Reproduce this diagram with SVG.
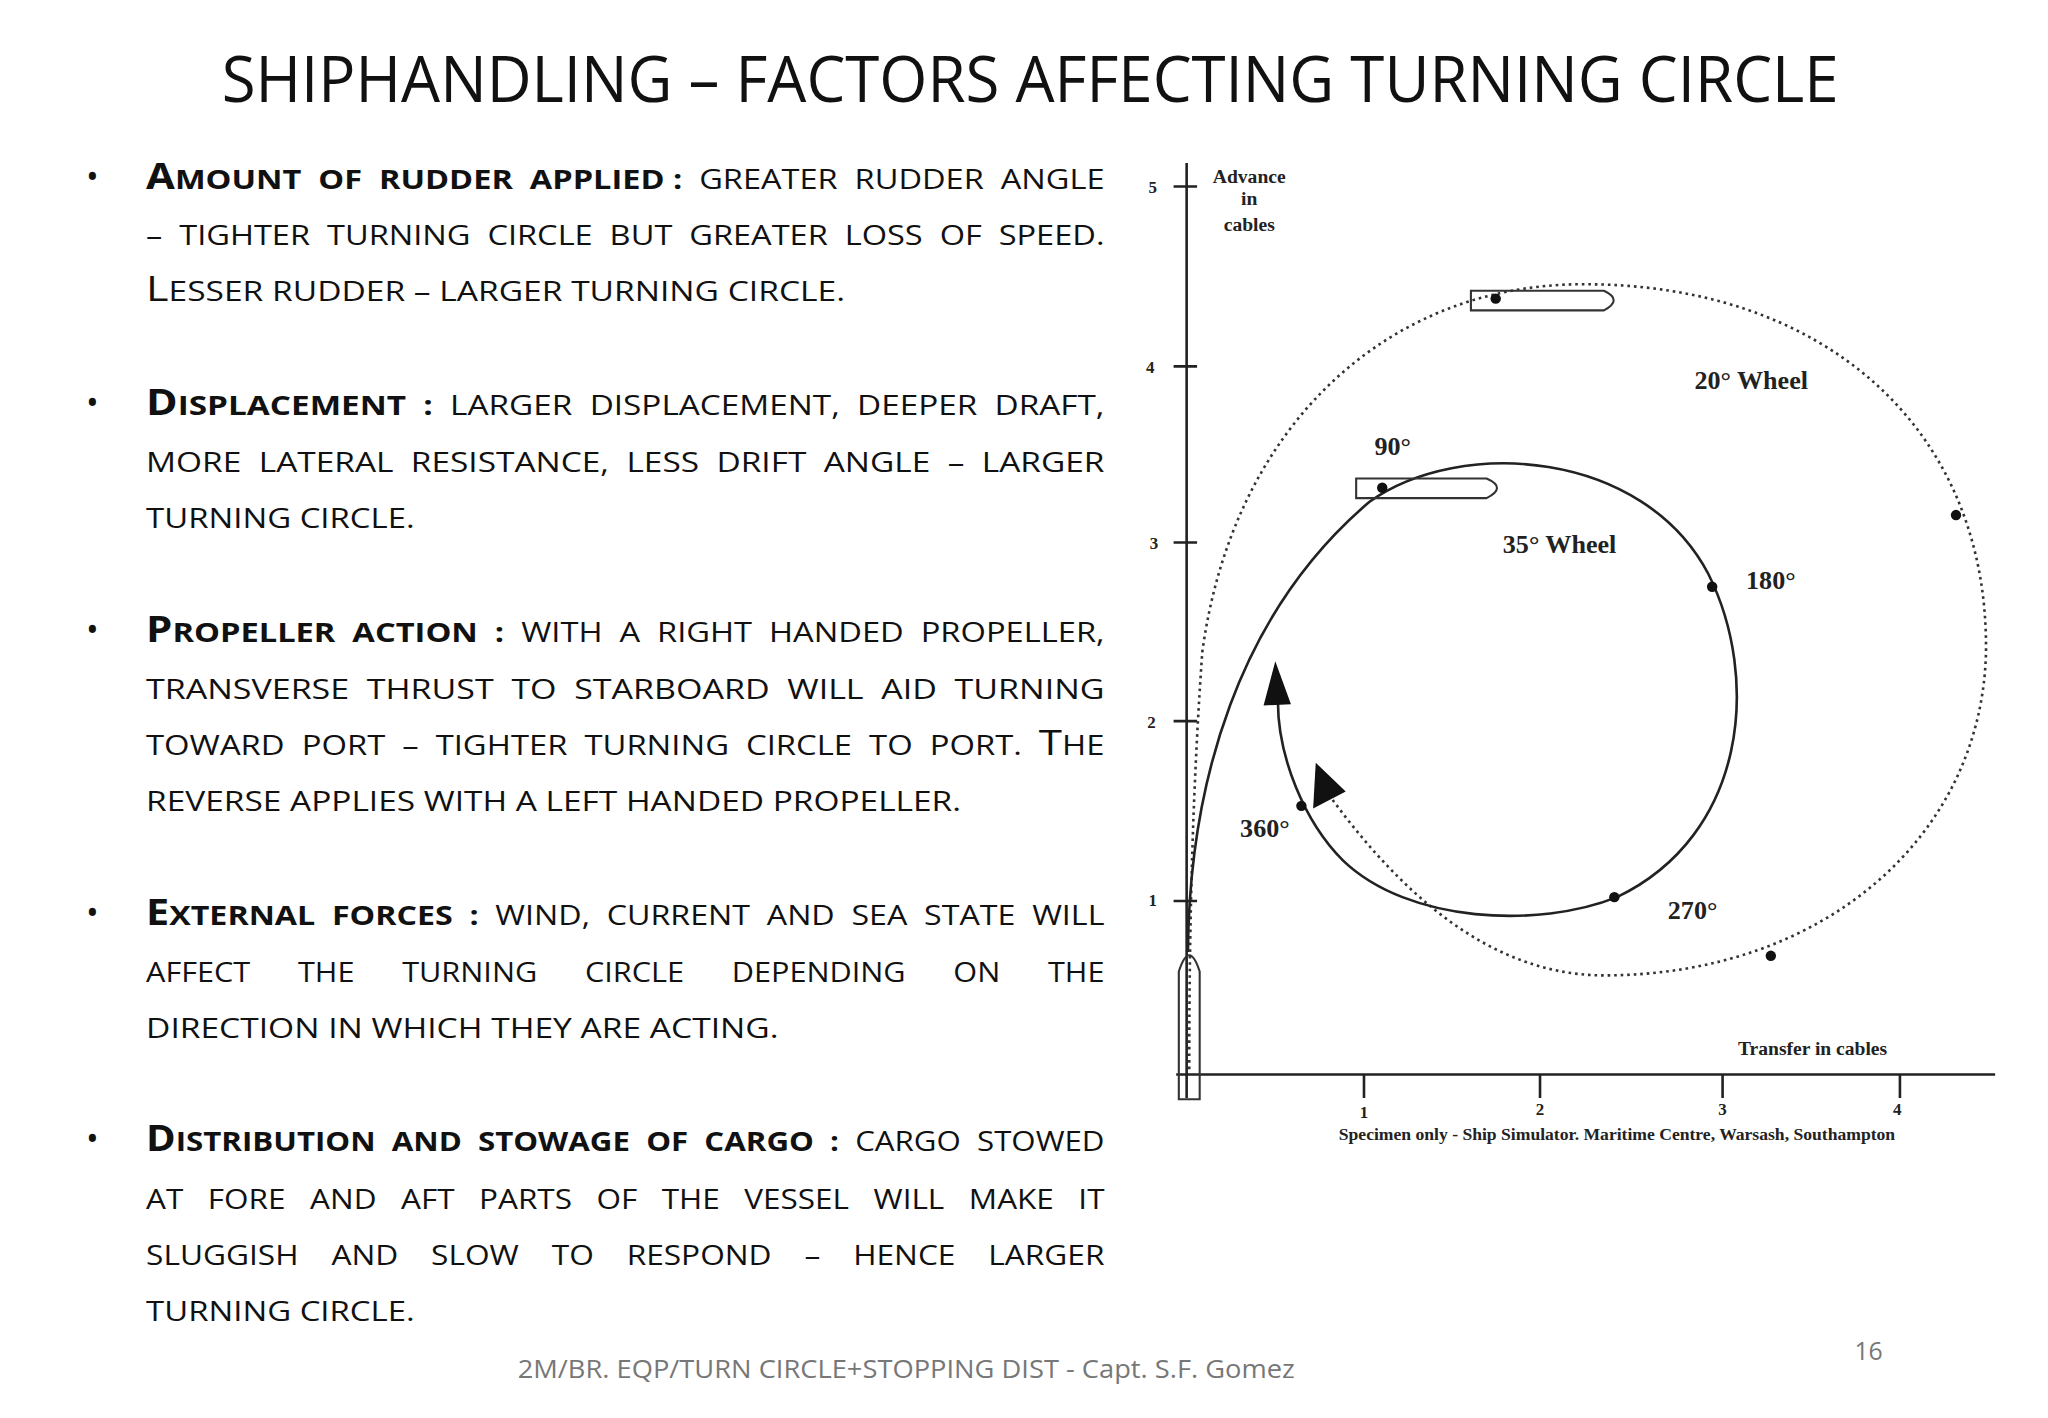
<svg xmlns="http://www.w3.org/2000/svg" width="2048" height="1418" viewBox="0 0 2048 1418">
<style>
.t{font-family:"Open Sans","Liberation Sans",sans-serif;fill:#111}
.b{font-weight:bold}
.big{font-size:27px}
.sm{font-size:21px}
.d{font-family:"Liberation Serif",serif;font-weight:bold;fill:#222}
.ax{stroke:#222;stroke-width:2;fill:none}
</style>
<rect width="2048" height="1418" fill="#fff"/>
<g transform="scale(1.304)">
<text class="t" x="790" y="78" text-anchor="middle" font-size="49" textLength="1240" lengthAdjust="spacingAndGlyphs">SHIPHANDLING – FACTORS AFFECTING TURNING CIRCLE</text>
<g id="bullets" class="t">
<g font-size="26"><text x="66" y="145">•</text><text x="66" y="318">•</text><text x="66" y="492">•</text><text x="66" y="709">•</text><text x="66" y="883">•</text></g>
<text x="112" y="145" textLength="735" lengthAdjust="spacingAndGlyphs" xml:space="preserve"><tspan class="b big">A</tspan><tspan class="b sm">MOUNT  OF  RUDDER  APPLIED :</tspan><tspan class="sm">  GREATER  RUDDER  ANGLE</tspan></text>
<text class="sm" x="112" y="188" textLength="735" lengthAdjust="spacingAndGlyphs" xml:space="preserve">–  TIGHTER  TURNING  CIRCLE  BUT  GREATER  LOSS  OF  SPEED.</text>
<text x="112" y="231" textLength="536" lengthAdjust="spacingAndGlyphs"><tspan class="big">L</tspan><tspan class="sm">ESSER RUDDER – LARGER TURNING CIRCLE.</tspan></text>
<text x="112" y="318" textLength="735" lengthAdjust="spacingAndGlyphs" xml:space="preserve"><tspan class="b big">D</tspan><tspan class="b sm">ISPLACEMENT  :</tspan><tspan class="sm">  LARGER  DISPLACEMENT,  DEEPER  DRAFT,</tspan></text>
<text class="sm" x="112" y="362" textLength="735" lengthAdjust="spacingAndGlyphs" xml:space="preserve">MORE  LATERAL  RESISTANCE,  LESS  DRIFT  ANGLE  –  LARGER</text>
<text class="sm" x="112" y="405" textLength="206" lengthAdjust="spacingAndGlyphs">TURNING CIRCLE.</text>
<text x="112" y="492" textLength="735" lengthAdjust="spacingAndGlyphs" xml:space="preserve"><tspan class="b big">P</tspan><tspan class="b sm">ROPELLER  ACTION  :</tspan><tspan class="sm">  WITH  A  RIGHT  HANDED  PROPELLER,</tspan></text>
<text class="sm" x="112" y="536" textLength="735" lengthAdjust="spacingAndGlyphs" xml:space="preserve">TRANSVERSE  THRUST  TO  STARBOARD  WILL  AID  TURNING</text>
<text x="112" y="579" textLength="735" lengthAdjust="spacingAndGlyphs" xml:space="preserve"><tspan class="sm">TOWARD  PORT  –  TIGHTER  TURNING  CIRCLE  TO  PORT.  </tspan><tspan class="big">T</tspan><tspan class="sm">HE</tspan></text>
<text class="sm" x="112" y="622" textLength="625" lengthAdjust="spacingAndGlyphs">REVERSE APPLIES WITH A LEFT HANDED PROPELLER.</text>
<text x="112" y="709" textLength="735" lengthAdjust="spacingAndGlyphs" xml:space="preserve"><tspan class="b big">E</tspan><tspan class="b sm">XTERNAL  FORCES  :</tspan><tspan class="sm">  WIND,  CURRENT  AND  SEA  STATE  WILL</tspan></text>
<text class="sm" x="112" y="753" textLength="735" lengthAdjust="spacingAndGlyphs" xml:space="preserve">AFFECT      THE      TURNING      CIRCLE      DEPENDING      ON      THE</text>
<text class="sm" x="112" y="796" textLength="485" lengthAdjust="spacingAndGlyphs">DIRECTION IN WHICH THEY ARE ACTING.</text>
<text x="112" y="883" textLength="735" lengthAdjust="spacingAndGlyphs" xml:space="preserve"><tspan class="b big">D</tspan><tspan class="b sm">ISTRIBUTION  AND  STOWAGE  OF  CARGO  :</tspan><tspan class="sm">  CARGO  STOWED</tspan></text>
<text class="sm" x="112" y="927" textLength="735" lengthAdjust="spacingAndGlyphs" xml:space="preserve">AT   FORE   AND   AFT   PARTS   OF   THE   VESSEL   WILL   MAKE   IT</text>
<text class="sm" x="112" y="970" textLength="735" lengthAdjust="spacingAndGlyphs" xml:space="preserve">SLUGGISH    AND    SLOW    TO    RESPOND    –    HENCE    LARGER</text>
<text class="sm" x="112" y="1013" textLength="206" lengthAdjust="spacingAndGlyphs">TURNING CIRCLE.</text>
</g>
<text class="t" x="397" y="1057" font-size="19" textLength="596" lengthAdjust="spacingAndGlyphs" style="fill:#777">2M/BR. EQP/TURN CIRCLE+STOPPING DIST - Capt. S.F. Gomez</text>
<text class="t" x="1433" y="1043" text-anchor="middle" font-size="19" style="fill:#777">16</text>
<g id="axes">
<path class="ax" d="M910,125 V842 M902,824 H1530"/>
<path class="ax" d="M900,143 H918 M900,281 H918 M900,416 H918 M900,553 H918 M900,691 H918 M1046,824 V842 M1181,824 V842 M1321,824 V842 M1457,824 V842"/>
<g class="d" font-size="13" text-anchor="middle">
<text x="884" y="148">5</text><text x="882" y="286">4</text><text x="885" y="421">3</text><text x="883" y="558">2</text><text x="884" y="695">1</text>
<text x="1046" y="857">1</text><text x="1181" y="855">2</text><text x="1321" y="855">3</text><text x="1455" y="855">4</text>
</g>
<g class="d" font-size="15" text-anchor="middle"><text x="958" y="140">Advance</text><text x="958" y="157">in</text><text x="958" y="177">cables</text></g>
<text class="d" x="1390" y="809" font-size="15" text-anchor="middle">Transfer in cables</text>
<text class="d" x="1240" y="874" font-size="13.5" text-anchor="middle">Specimen only - Ship Simulator. Maritime Centre, Warsash, Southampton</text>
</g>
<g id="connectors">
<path d="M912,820 C912,700 915,600 922,500 C945,330 1060,220 1210,218 C1400,216 1525,330 1523,500 C1520,640 1400,748 1230,748 C1140,748 1070,680 1018,608" fill="none" stroke="#333" stroke-width="2" stroke-dasharray="2,3"/>
<path d="M911,730 C912,600 950,470 1050,385 C1120,335 1260,345 1310,440 C1350,520 1340,640 1240,688 C1180,712 1080,708 1030,660 C1000,630 980,580 980,538" fill="none" stroke="#222" stroke-width="2"/>
<polygon points="978,507 969,541 990,540" fill="#111"/>
<polygon points="1009,585 1007,620 1032,607" fill="#111"/>
</g>
<g id="ships" fill="none" stroke="#333" stroke-width="1.6">
<path d="M1128,223 H1230 Q1245,230 1230,238 H1128 Z"/>
<path d="M1040,367 H1140 Q1156,374 1140,382 H1040 Z"/>
<path d="M904,843 V745 Q912,720 920,745 V843 Z"/>
</g>
<g id="dots" fill="#111">
<circle cx="1147" cy="229" r="4"/><circle cx="1060" cy="374" r="4"/><circle cx="1313" cy="450" r="4"/><circle cx="1238" cy="688" r="4"/><circle cx="998" cy="618" r="4"/><circle cx="1500" cy="395" r="4"/><circle cx="1358" cy="733" r="4"/>
</g>
<g id="labels" class="d" font-size="20" text-anchor="middle">
<text x="1343" y="298">20° Wheel</text><text x="1068" y="349">90°</text><text x="1196" y="424">35° Wheel</text><text x="1358" y="452">180°</text><text x="970" y="642">360°</text><text x="1298" y="705">270°</text>
</g>
</g>
</svg>
